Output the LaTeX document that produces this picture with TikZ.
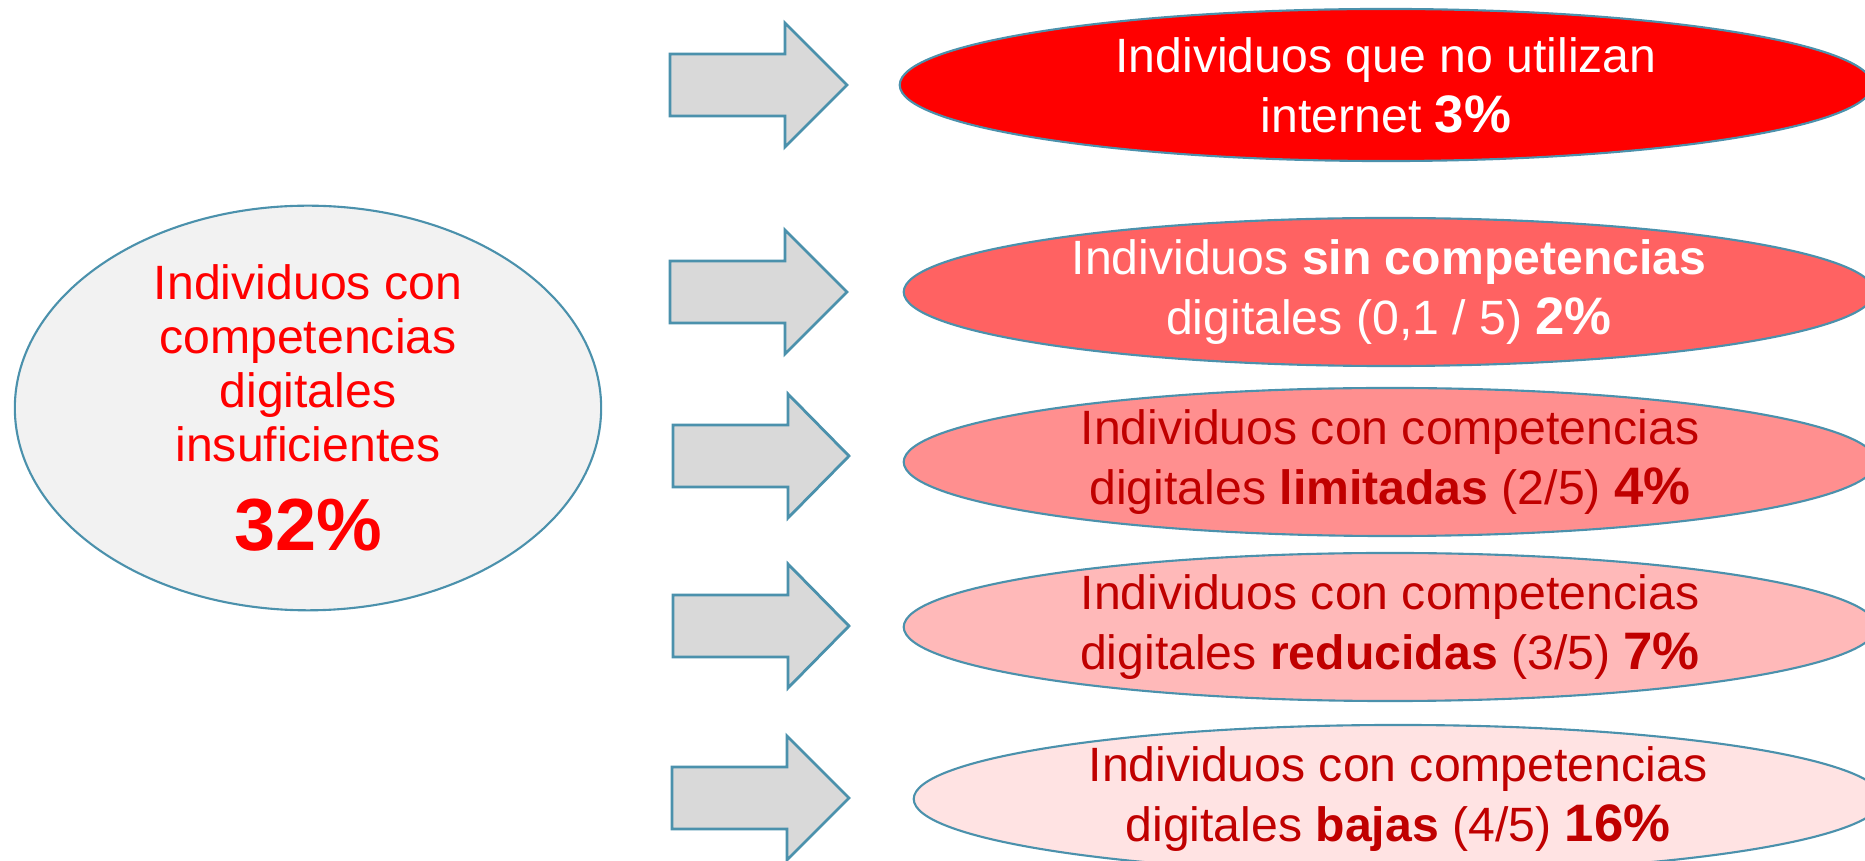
\documentclass[tikz,border=0pt]{standalone}
\usepackage{fontspec}
\setmainfont{Liberation Sans}
\usetikzlibrary{shapes.geometric}
\definecolor{edgeblue}{RGB}{75,145,172}
\definecolor{arrowgray}{RGB}{217,217,217}
\definecolor{ovalgray}{RGB}{242,242,242}
\definecolor{darkred}{RGB}{192,0,0}
\definecolor{redA}{RGB}{255,0,0}
\definecolor{redB}{RGB}{255,98,98}
\definecolor{redC}{RGB}{255,143,143}
\definecolor{redD}{RGB}{255,185,185}
\definecolor{redE}{RGB}{255,227,227}
\newcommand{\pct}[1]{{\fontsize{15}{17}\selectfont\bfseries #1}}
\begin{document}
\begin{tikzpicture}[x=0.01cm,y=-0.01cm,
  oval/.style={ellipse,draw=edgeblue,line width=0.6pt,inner sep=0pt,align=center,
    font=\fontsize{13.7}{17}\selectfont},
  level/.style={oval,minimum width=9.72cm,minimum height=1.43cm},
  bigarrow/.style={draw=edgeblue,fill=arrowgray,line width=0.8pt,line join=miter}]
\useasboundingbox (0,0) rectangle (1865,861);
\clip (0,0) rectangle (1865,861);
\node[oval,fill=ovalgray,text=red,minimum width=5.86cm,minimum height=3.98cm,
  font=\fontsize{13.7}{15.3}\selectfont] (insuf) at (308,408)
  {Individuos con\\competencias\\digitales\\insuficientes\\[10pt]{\fontsize{21}{25}\selectfont\bfseries 32\%}};
\foreach \xa/\xb/\xt/\yc in {670/785/847/85, 670/785/847/292, 673/788/849/456, 673/788/849/626, 672/787/849/798}
  \draw[bigarrow] (\xa,\yc-31) -- (\xb,\yc-31) -- (\xb,\yc-62) -- (\xt,\yc) -- (\xb,\yc+62) -- (\xb,\yc+31) -- (\xa,\yc+31) -- cycle;
\node[level,fill=redA,text=white,minimum height=1.52cm] (nouso) at (1386,85)
  {Individuos que no utilizan\\internet \pct{3\%}};
\node[level,fill=redB,text=white,minimum width=9.70cm] (sincomp) at (1389,292)
  {Individuos \textbf{sin competencias}\\digitales (0,1 / 5) \pct{2\%}};
\node[level,fill=redC,text=darkred,minimum height=1.42cm] (limit) at (1390,462)
  {Individuos con competencias\\digitales \textbf{limitadas} (2/5) \pct{4\%}};
\node[level,fill=redD,text=darkred,minimum height=1.42cm] (reduc) at (1390,627)
  {Individuos con competencias\\digitales \textbf{reducidas} (3/5) \pct{7\%}};
\node[level,fill=redE,text=darkred,minimum width=9.68cm] (bajas) at (1398,799)
  {Individuos con competencias\\digitales \textbf{bajas} (4/5) \pct{16\%}};
\end{tikzpicture}
\end{document}
